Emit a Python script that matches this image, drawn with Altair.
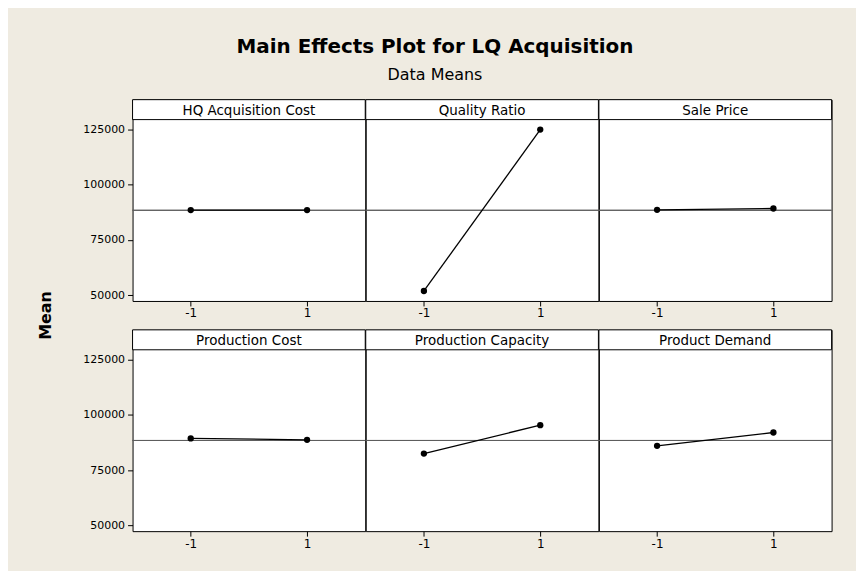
import altair as alt
import pandas as pd

factors = ["HQ Acquisition Cost", "Quality Ratio", "Sale Price",
           "Production Cost", "Production Capacity", "Product Demand"]
levels = [-1, 1]
low_means = [88500, 52000, 88600, 89300, 82500, 86000]
high_means = [88500, 124800, 89200, 88700, 95300, 92000]
grand_mean = 88400
y_ticks = [50000, 75000, 100000, 125000]
x_ticks = [-1, 1]

FONT = "DejaVu Sans"
W = 233.5      # panel width
PH = 182       # data area height
HH = 20        # header strip height
Y_LO, Y_HI = 47500, 129300
Y_TOP = Y_HI + HH * (Y_HI - Y_LO) / PH   # domain extended to hold the header strip


def panel(i):
    name = factors[i]
    df = pd.DataFrame({"level": levels,
                       "mean": [low_means[i], high_means[i]],
                       "gm": [grand_mean, grand_mean]})
    first = (i % 3 == 0)
    xaxis = alt.Axis(values=x_ticks, labelExpr="toString(datum.value)",
                     title=None, grid=False, domain=False,
                     tickColor="black", tickSize=5, labelColor="black",
                     labelFont=FONT, labelFontSize=12, labelPadding=2)
    xenc = alt.X("level:Q", scale=alt.Scale(domain=[-2, 2]), axis=xaxis)
    yscale = alt.Scale(domain=[Y_LO, Y_TOP], nice=False, zero=False)
    if first:
        yaxis = alt.Axis(values=y_ticks, format="d", grid=False, domain=False,
                         tickColor="black", tickSize=5, labelColor="black",
                         labelFont=FONT, labelFontSize=11, labelPadding=3,
                         title="")
        ymean = alt.Y("mean:Q", scale=yscale, axis=yaxis)
        ygm = alt.Y("gm:Q", scale=yscale, axis=yaxis)
    else:
        ymean = alt.Y("mean:Q", scale=yscale, axis=None)
        ygm = alt.Y("gm:Q", scale=yscale, axis=None)
    rule = alt.Chart(df).mark_rule(color="#5c5c5c", strokeWidth=1).encode(y=ygm)
    line = alt.Chart(df).mark_line(color="black", strokeWidth=1.3).encode(x=xenc, y=ymean)
    pts = alt.Chart(df).mark_circle(color="black", size=40, opacity=1).encode(x=xenc, y=ymean)
    hdf = pd.DataFrame({"name": [name]})
    hbox = alt.Chart(hdf).mark_rect(fill="white", stroke="black", strokeWidth=1).encode(
        x=alt.value(0), x2=alt.value(W), y=alt.value(0), y2=alt.value(HH))
    htext = alt.Chart(hdf).mark_text(font=FONT, fontSize=13.5, color="black").encode(
        text="name:N", x=alt.value(W / 2), y=alt.value(HH / 2 + 1))
    return alt.layer(rule, line, pts, hbox, htext).properties(width=W, height=PH + HH)


row1 = alt.hconcat(panel(0), panel(1), panel(2), spacing=0, bounds="flush")
row2 = alt.hconcat(panel(3), panel(4), panel(5), spacing=0, bounds="flush")
grid = alt.vconcat(row1, row2, spacing=9)

GRID_H = 2 * (PH + HH) + 29
mean_label = alt.Chart(pd.DataFrame({"t": ["Mean"]})).mark_text(
    font=FONT, fontSize=16, fontWeight="bold", color="black", angle=270).encode(
    text="t:N", x=alt.value(8), y=alt.value(GRID_H / 2)
).properties(width=16, height=GRID_H,
             view=alt.ViewBackground(fill="transparent", stroke="transparent"))

chart = alt.hconcat(mean_label, grid, spacing=27).properties(
    title=alt.TitleParams(
        text="Main Effects Plot for LQ  Acquisition", subtitle="Data Means",
        font=FONT, fontSize=20, fontWeight="bold", color="black",
        subtitleFont=FONT, subtitleFontSize=16, subtitleColor="black",
        subtitlePadding=10, anchor="middle", offset=16),
    padding={"left": 29, "top": 28, "right": 23, "bottom": 20},
    background="#EFEBE1",
).configure_view(fill="white", stroke="black", strokeWidth=1)

chart.save("out.html", embed_options={"renderer": "svg", "actions": False})
